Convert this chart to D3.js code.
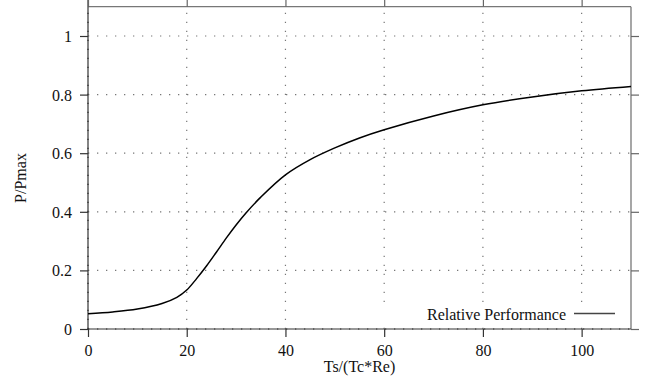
<!DOCTYPE html>
<html><head><meta charset="utf-8">
<script src="https://cdn.jsdelivr.net/npm/d3@7"></script>
<style>html,body{margin:0;padding:0;background:#fff;}svg{display:block;}</style>
</head><body>
<script>
const xValues = [0, 5, 10, 15, 18, 20, 22, 24, 26, 28, 30, 32, 35, 40, 45, 50, 55, 60, 70, 80, 90, 100, 110];
const yValues = [0.052, 0.058, 0.068, 0.087, 0.108, 0.133, 0.172, 0.215, 0.262, 0.31, 0.355, 0.396, 0.45, 0.526, 0.578, 0.618, 0.652, 0.68, 0.727, 0.765, 0.792, 0.813, 0.828];
const xTicks = [0, 20, 40, 60, 80, 100];
const yTicks = [0, 0.2, 0.4, 0.6, 0.8, 1];
const yTickLabels = ["0", "0.2", "0.4", "0.6", "0.8", "1"];
const seriesName = "Relative Performance";
const xTitle = "Ts/(Tc*Re)";
const yTitle = "P/Pmax";

(function () {
const W = 651, H = 378;
const L = 88, R = 631, T = 6.7, B = 329;
const svg = d3.select("body").append("svg").attr("width", W).attr("height", H);
const x = d3.scaleLinear().domain([0, 110]).range([L, R]);
const y = d3.scaleLinear().domain([0, 1.1]).range([B, T]);
const font = "'Liberation Serif', 'DejaVu Serif', serif";

// grid
const g = svg.append("g");
g.selectAll(".vg").data(xTicks).join("line")
  .attr("x1", d => x(d)).attr("x2", d => x(d)).attr("y1", B).attr("y2", T)
  .attr("stroke", d => d === 0 ? "#222" : "#777").attr("stroke-width", 1.2)
  .attr("stroke-dasharray", "1.3,7.7");
g.selectAll(".hg").data(yTicks).join("line")
  .attr("y1", d => y(d)).attr("y2", d => y(d)).attr("x1", L).attr("x2", R)
  .attr("stroke", d => d === 0 ? "#222" : "#777").attr("stroke-width", 1.2)
  .attr("stroke-dasharray", "1.3,7.7");

// legend opaque area
svg.append("rect").attr("x", 375).attr("y", 305).attr("width", 250).attr("height", 22).attr("fill", "#fff");

// borders
svg.append("line").attr("x1", L).attr("x2", R).attr("y1", T).attr("y2", T).attr("stroke", "#777").attr("stroke-width", 1.3);
svg.append("line").attr("x1", R).attr("x2", R).attr("y1", T).attr("y2", B).attr("stroke", "#777").attr("stroke-width", 1.3);
svg.append("line").attr("x1", L).attr("x2", L).attr("y1", 0).attr("y2", B).attr("stroke", "#333").attr("stroke-width", 1.2);
svg.append("line").attr("x1", L).attr("x2", R).attr("y1", B).attr("y2", B).attr("stroke", "#333").attr("stroke-width", 1.2);

// axes with d3
const axB = svg.append("g").attr("transform", `translate(0,${B})`)
  .call(d3.axisBottom(x).tickValues(xTicks).tickSize(8).tickFormat(d3.format("d")));
const axT = svg.append("g").attr("transform", `translate(0,${T})`)
  .call(d3.axisTop(x).tickValues(xTicks).tickSize(8).tickFormat(""));
const axL = svg.append("g").attr("transform", `translate(${L},0)`)
  .call(d3.axisLeft(y).tickValues(yTicks).tickSize(8).tickFormat((d, i) => yTickLabels[i]));
const axR = svg.append("g").attr("transform", `translate(${R},0)`)
  .call(d3.axisRight(y).tickValues(yTicks).tickSize(8).tickFormat(""));
[axB, axT, axL, axR].forEach(a => {
  a.select(".domain").remove();
  a.selectAll("line").attr("stroke", "#333").attr("stroke-width", 1.2);
  a.selectAll("text").attr("font-family", font).attr("font-size", 16).attr("fill", "#111");
});
[axT, axR].forEach(a => a.selectAll("line").attr("stroke", "#666"));
axB.selectAll("text").attr("dy", null).attr("y", 27);
axL.selectAll("text").attr("dy", null).attr("x", -16).attr("dominant-baseline", "central");

// curve
const pts = xValues.map((v, i) => [v, yValues[i]]);
svg.append("path").datum(pts)
  .attr("d", d3.line().x(d => x(d[0])).y(d => y(d[1])).curve(d3.curveCatmullRom.alpha(0.5)))
  .attr("fill", "none").attr("stroke", "#000").attr("stroke-width", 1.5);

// legend
svg.append("text").attr("x", 566).attr("y", 320).attr("text-anchor", "end")
  .attr("font-family", font).attr("font-size", 16).attr("fill", "#111").text(seriesName);
svg.append("line").attr("x1", 574).attr("x2", 615).attr("y1", 313.5).attr("y2", 313.5)
  .attr("stroke", "#444").attr("stroke-width", 1.3);

// titles
svg.append("text").attr("x", (L + R) / 2).attr("y", 372).attr("text-anchor", "middle")
  .attr("font-family", font).attr("font-size", 16).attr("fill", "#111").text(xTitle);
svg.append("text").attr("transform", "translate(26,178) rotate(-90)").attr("text-anchor", "middle")
  .attr("font-family", font).attr("font-size", 16).attr("fill", "#111").text(yTitle);
})();
</script>
</body></html>
